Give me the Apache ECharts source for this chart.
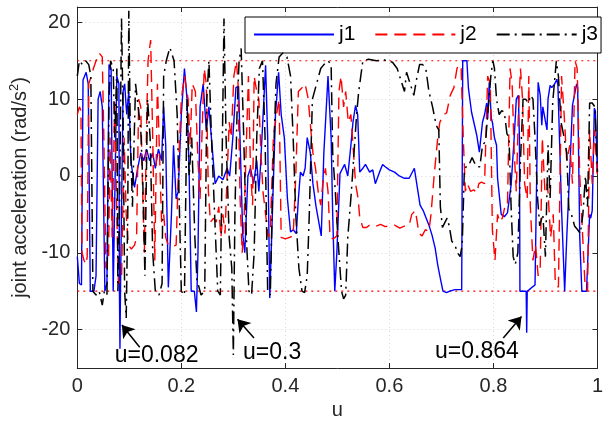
<!DOCTYPE html>
<html><head><meta charset="utf-8">
<script src="https://cdn.jsdelivr.net/npm/echarts@6/dist/echarts.min.js"></script>
<style>html,body{margin:0;padding:0;background:#fff}#c{width:606px;height:428px}</style>
</head><body><div id="c"></div>
<script>
// ---- data: [u, joint acceleration] ----
const j1 = [[0,-10.5],[.004,-14],[.008,-14.2],[.011,12.5],[.017,13.5],[.021,12],[.025,-15],[.032,-15],[.036,-13],[.040,10],[.044,11],[.048,9],[.053,-15],[.057,-14],[.061,14.5],[.065,14],[.069,-15],[.072,-15],[.076,13],[.080,12],[.081,-15],[.082,-22.5],[.083,-15],[.088,11],[.091,12],[.095,8],[.099,11],[.103,2],[.110,-1.5],[.116,1],[.122,3],[.128,2],[.133,3.5],[.139,2],[.145,3],[.150,1],[.156,3.5],[.162,2],[.166,9],[.170,4],[.175,-14.5],[.181,-5],[.185,4],[.190,-3],[.194,-2],[.200,8],[.206,14],[.211,10],[.215,0.5],[.219,-15],[.225,-15],[.229,-17.7],[.232,-10],[.236,9],[.242,12],[.248,6],[.253,9],[.259,4],[.265,-1],[.272,0],[.280,-0.5],[.288,1],[.293,0],[.299,5],[.305,11.5],[.310,11.7],[.318,-7.6],[.322,-10],[.328,0],[.333,1],[.339,-1],[.345,2],[.349,-2],[.352,1],[.362,14.4],[.366,5],[.370,-15.9],[.375,-5],[.381,8],[.387,13.5],[.392,8],[.398,5],[.404,-3],[.410,-7.3],[.415,-7],[.421,-7.5],[.425,-3],[.429,0.5],[.434,0],[.438,1],[.442,5],[.448,3],[.453,-1],[.459,-4],[.469,-7.8],[.474,3],[.482,13],[.488,5],[.491,-5],[.495,-15],[.499,-10],[.505,0.3],[.510,1],[.514,1.5],[.520,0],[.526,4],[.530,7],[.535,9.2],[.539,8],[.543,0.5],[.549,1],[.554,1.5],[.562,0.5],[.568,0.8],[.573,-1],[.581,0.5],[.587,1.5],[.592,1.2],[.600,0.8],[.610,0.5],[.619,0],[.629,-0.3],[.638,-0.3],[.648,1],[.651,1.2],[.659,-3.8],[.665,-4.5],[.676,-6.4],[.682,-7.7],[.688,-9.4],[.693,-11.6],[.697,-13],[.703,-15],[.710,-15.2],[.716,-15],[.726,-14.8],[.739,-14.8],[.741,15],[.749,15],[.752,11.4],[.758,8.3],[.768,5.3],[.773,3.1],[.779,7],[.783,8],[.787,9.5],[.789,7.5],[.792,12.2],[.796,7.5],[.798,7],[.802,5],[.806,4],[.808,-0.3],[.815,-5],[.821,-5.3],[.827,-4.8],[.834,-1.2],[.840,5],[.844,10],[.848,10.5],[.850,5],[.851,-15],[.859,-15],[.863,-15],[.864,-20.4],[.865,-15],[.869,-14.8],[.876,-14.4],[.880,-14.2],[.886,12.2],[.890,10.5],[.893,6.6],[.895,9],[.903,6],[.905,10],[.909,11.8],[.912,11.5],[.918,12],[.922,12.6],[.924,11.8],[.928,2.7],[.931,-4.3],[.937,-15],[.941,-8],[.947,1],[.952,9.2],[.960,12],[.962,11.5],[.966,-8],[.970,-15],[.979,-15],[.981,-15.2],[.985,-5],[.987,-5.5],[.990,-4.5],[.994,8.8],[.996,8.5],[1.0,0.5]];

const j2 = [[0,8],[.004,9],[.007,8.5],[.009,-10],[.013,-11],[.017,-11.5],[.019,-10.5],[.022,12],[.027,13],[.031,14],[.036,15],[.042,16],[.048,15.5],[.051,5],[.055,-12],[.060,-11],[.063,5],[.067,-8],[.072,10],[.075,-2],[.079,-14],[.085,-13.5],[.090,5],[.094,-5],[.098,-9],[.104,-9.5],[.110,-9],[.114,-8],[.118,10],[.122,9],[.126,-3],[.129,-10],[.133,6],[.136,15],[.141,17.7],[.145,5],[.149,-11],[.154,12],[.158,3],[.162,-6],[.166,-5],[.170,-8],[.175,-9],[.182,-9.2],[.190,-9],[.195,2],[.200,10],[.206,13],[.213,10],[.217,4],[.221,12],[.227,11],[.232,2],[.236,-3],[.240,6],[.244,14],[.248,12],[.252,-2],[.256,-6],[.262,-5.5],[.267,-6],[.272,-4],[.276,-8],[.280,-5],[.284,-7.5],[.288,0],[.292,7],[.296,5],[.301,13],[.306,15],[.309,12],[.313,-3],[.317,-10],[.320,-7],[.324,2],[.329,13],[.333,0.8],[.337,-3.8],[.340,13],[.345,11],[.349,10],[.353,3],[.357,-2],[.362,-5],[.367,-8],[.371,-7],[.377,5],[.383,8],[.388,10],[.392,-8],[.400,-8.2],[.408,-8],[.415,-7.8],[.420,0],[.425,11],[.432,11.5],[.438,12],[.444,10],[.449,6],[.453,3],[.458,1],[.463,-2],[.468,-3.8],[.472,-1],[.477,1],[.482,-2],[.486,-8],[.492,-8.2],[.499,-7.8],[.503,11],[.507,13],[.512,9],[.516,11],[.521,7],[.526,8],[.530,4],[.535,-1],[.540,-3],[.543,-5.4],[.549,-6.7],[.556,-6.7],[.562,-6.4],[.572,-6.6],[.583,-6.3],[.592,-6.6],[.600,-6.5],[.610,-6.4],[.620,-6.8],[.630,-6.5],[.638,-6.4],[.643,-5],[.650,-4.5],[.657,-7.5],[.663,-7.8],[.669,-7],[.676,-7.2],[.680,-5],[.686,0],[.693,5],[.697,7],[.704,8],[.710,8.2],[.717,10.5],[.724,11.5],[.730,14],[.734,14.5],[.738,14],[.742,5],[.746,-2],[.750,-1],[.756,-2],[.762,-1.8],[.768,-2.2],[.772,-1],[.777,-0.8],[.783,-1],[.789,13],[.794,12],[.798,-7],[.803,-11],[.808,-5],[.812,-6],[.817,-5.5],[.822,-4],[.827,-4],[.832,14],[.836,12],[.840,3],[.844,-2],[.848,8],[.852,14],[.856,10],[.860,-1],[.865,-3],[.868,13],[.871,-4],[.876,-11],[.881,-9],[.886,-13],[.890,-12],[.894,5],[.899,-2],[.904,-1],[.910,-8],[.915,-5],[.919,-14],[.925,-14.5],[.931,13],[.936,8],[.941,2],[.947,4],[.952,-1],[.957,15],[.961,14],[.966,0],[.971,-7],[.976,-14],[.981,-15],[.985,6],[.990,-1],[.994,6],[1.0,0]];

const j3 = [[0,13],[.004,15],[.010,14.5],[.016,15],[.022,14.5],[.026,13],[.030,-15],[.036,-15.5],[.042,-15],[.048,-16.8],[.052,-15],[.057,-15.5],[.061,10],[.064,15],[.069,14],[.072,5],[.076,14],[.078,-15],[.081,-5],[.085,20.5],[.088,8],[.091,-15],[.094,-18.5],[.097,-5],[.099,21.5],[.102,5],[.106,-4],[.112,12],[.117,9],[.122,6],[.126,-1],[.130,-13],[.135,10],[.140,5],[.145,-10],[.150,-15],[.157,-15.5],[.163,-14],[.166,13],[.171,15],[.178,16.7],[.186,15],[.192,8],[.200,-15],[.206,-15.5],[.211,10],[.215,0],[.220,5],[.226,-8],[.230,-13.5],[.238,-15.5],[.245,-15],[.249,10],[.253,15],[.258,5],[.264,-5],[.270,-15],[.275,-15.5],[.279,5],[.282,20.5],[.286,5],[.292,-8],[.297,-12],[.300,-23.3],[.303,-5],[.307,8],[.311,15],[.315,16.6],[.320,5],[.325,-8],[.330,-15],[.335,-15.5],[.340,-10],[.345,5],[.350,14],[.356,15],[.361,5],[.366,-15],[.371,-15.5],[.376,0],[.382,12],[.388,15.5],[.395,16],[.403,15.5],[.410,13],[.415,5],[.420,-5],[.426,-12],[.432,-15],[.437,-15.2],[.442,-13],[.446,-5],[.452,10],[.460,12],[.468,14],[.474,14.5],[.482,15],[.488,14.5],[.491,3],[.496,-2],[.501,-8],[.505,-12],[.508,-15],[.512,-16],[.516,-15.5],[.520,-8],[.527,-2],[.532,3],[.537,8],[.541,11],[.545,13],[.549,15],[.560,15.2],[.575,15],[.590,15.1],[.606,14.8],[.615,14],[.622,12.5],[.629,11],[.633,13.5],[.640,12],[.647,10.5],[.652,12.5],[.658,14.5],[.664,14.5],[.670,14],[.676,11],[.683,9],[.690,6.6],[.695,6],[.698,-4],[.702,-6.7],[.707,-6],[.711,-5.5],[.715,-6.5],[.720,-8.5],[.726,-9],[.731,-10],[.736,-10.5],[.740,-9],[.744,0.5],[.749,1.5],[.754,1.6],[.759,2.4],[.763,1.8],[.768,1.2],[.774,1.2],[.779,4],[.785,4.5],[.789,8],[.795,13],[.799,15],[.802,14],[.806,10],[.811,8],[.816,8.5],[.821,8.3],[.826,5.5],[.830,5],[.834,-4],[.838,-10.5],[.842,-11.5],[.847,-10],[.852,2],[.857,10],[.862,10],[.867,9.5],[.872,10.5],[.876,10],[.880,5],[.885,-3],[.889,-6.5],[.895,-5],[.900,-10.5],[.905,4],[.909,-3],[.914,9.6],[.921,15],[.925,13],[.930,7],[.936,5],[.941,3],[.945,-4.3],[.950,-5],[.956,-6.5],[.962,-7],[.967,-7.5],[.972,-5],[.977,0],[.981,-4],[.985,9.5],[.990,9.5],[.995,9],[1.0,0.5]];

const seriesNames = ['j1', 'j2', 'j3'];
const limits = [15, -15];
const xRange = [0, 1];
const yRange = [-25, 22];
const notes = ['u=0.082', 'u=0.3', 'u=0.864'];

// ---- annotation placement (data coordinates) ----
const arrowFrom = [[0.120, -22.3], [0.3397, -21.1], [0.819, -21.1]];
const arrowTo   = [[0.0857, -19.4], [0.308, -18.66], [0.854, -18.3]];
const noteAt    = [[0.1524, -23.4], [0.3746, -22.97], [0.7683, -22.9]];

const FONT = '"Liberation Sans", Arial, Helvetica, sans-serif';
const AX = '#262626';

const chart = echarts.init(document.getElementById('c'), null, {renderer: 'canvas'});

const baseAxisLine = {show: true, onZero: false, lineStyle: {color: AX, width: 1}};
const tickIn = {show: true, inside: true, length: 5, lineStyle: {color: AX, width: 1}};
const gridLine = {show: true, lineStyle: {color: '#d6d6d6', type: [1, 3], width: 1}};

// limit lines as plain line series spanning the x range
const limitSeries = limits.map((v, i) => ({
  name: 'limit' + i, type: 'line', symbol: 'none', silent: true, z: 2,
  data: xRange.map(x => [x, v]),
  lineStyle: {color: '#ff0000', type: [2, 4], width: 1.2},
  itemStyle: {color: '#ff0000'},
  emphasis: {disabled: true}
}));

chart.setOption({
  animation: false,
  backgroundColor: '#fff',
  textStyle: {fontFamily: FONT},
  grid: {left: 75, right: 6, top: 7, bottom: 60},
  legend: {
    data: seriesNames,
    left: 245, top: 17, width: 400,
    padding: [7, 3, 8, 8],
    itemWidth: 80, itemHeight: 14, itemGap: 19,
    itemStyle: {opacity: 0},
    borderColor: '#000', borderWidth: 1, backgroundColor: '#fff',
    textStyle: {fontSize: 21, color: '#000', fontFamily: FONT},
    selectedMode: false
  },
  xAxis: [{
    type: 'value', min: xRange[0], max: xRange[1], interval: 0.2,
    name: 'u', nameLocation: 'middle', nameGap: 32,
    nameTextStyle: {fontSize: 20, color: AX, fontFamily: FONT},
    axisLine: baseAxisLine, axisTick: tickIn,
    axisLabel: {fontSize: 20, color: AX, margin: 8, fontFamily: FONT},
    splitLine: gridLine
  }, {
    type: 'value', position: 'top', min: xRange[0], max: xRange[1], interval: 0.2,
    axisLine: baseAxisLine, axisTick: tickIn, axisLabel: {show: false}, splitLine: {show: false}
  }],
  yAxis: [{
    type: 'value', min: yRange[0], max: yRange[1],
    name: 'joint acceleration (rad/s{sup|2})', nameLocation: 'middle', nameGap: 40,
    nameTextStyle: {fontSize: 20, color: AX, fontFamily: FONT,
      rich: {sup: {fontSize: 13, verticalAlign: 'top', padding: [0, 0, 12, 0], color: AX, fontFamily: FONT}}},
    axisLine: baseAxisLine, axisTick: tickIn,
    axisLabel: {fontSize: 20, color: AX, margin: 7, fontFamily: FONT,
      formatter: v => (Math.abs(v % 10) < 1e-9 ? String(v) : '')},
    splitLine: gridLine
  }, {
    type: 'value', position: 'right', min: yRange[0], max: yRange[1],
    axisLine: baseAxisLine, axisTick: tickIn, axisLabel: {show: false}, splitLine: {show: false}
  }],
  series: limitSeries.concat([
    {
      name: seriesNames[0], type: 'line', data: j1, symbol: 'none', z: 3,
      lineStyle: {color: '#0000ff', width: 1.4}, itemStyle: {color: '#0000ff'}
    },
    {
      name: seriesNames[1], type: 'line', data: j2, symbol: 'none', z: 4,
      lineStyle: {color: '#ff0000', width: 1.4, type: [12, 7]}, itemStyle: {color: '#ff0000'}
    },
    {
      name: seriesNames[2], type: 'line', data: j3, symbol: 'none', z: 5,
      lineStyle: {color: '#000000', width: 1.5, type: [13, 5, 2, 5]}, itemStyle: {color: '#000000'},
      markLine: {
        silent: true, symbol: ['none', 'arrow'], symbolSize: 12, label: {show: false},
        lineStyle: {color: '#000', type: 'solid', width: 1.5},
        data: arrowFrom.map((p, i) => [{coord: p}, {coord: arrowTo[i]}])
      },
      markPoint: {
        silent: true, symbol: 'rect', symbolSize: 1,
        itemStyle: {color: 'rgba(0,0,0,0)'},
        label: {show: true, position: 'inside', formatter: '{b}', fontSize: 23, color: '#000', fontFamily: FONT},
        data: notes.map((t, i) => ({name: t, coord: noteAt[i]}))
      }
    }
  ])
});
</script></body></html>
